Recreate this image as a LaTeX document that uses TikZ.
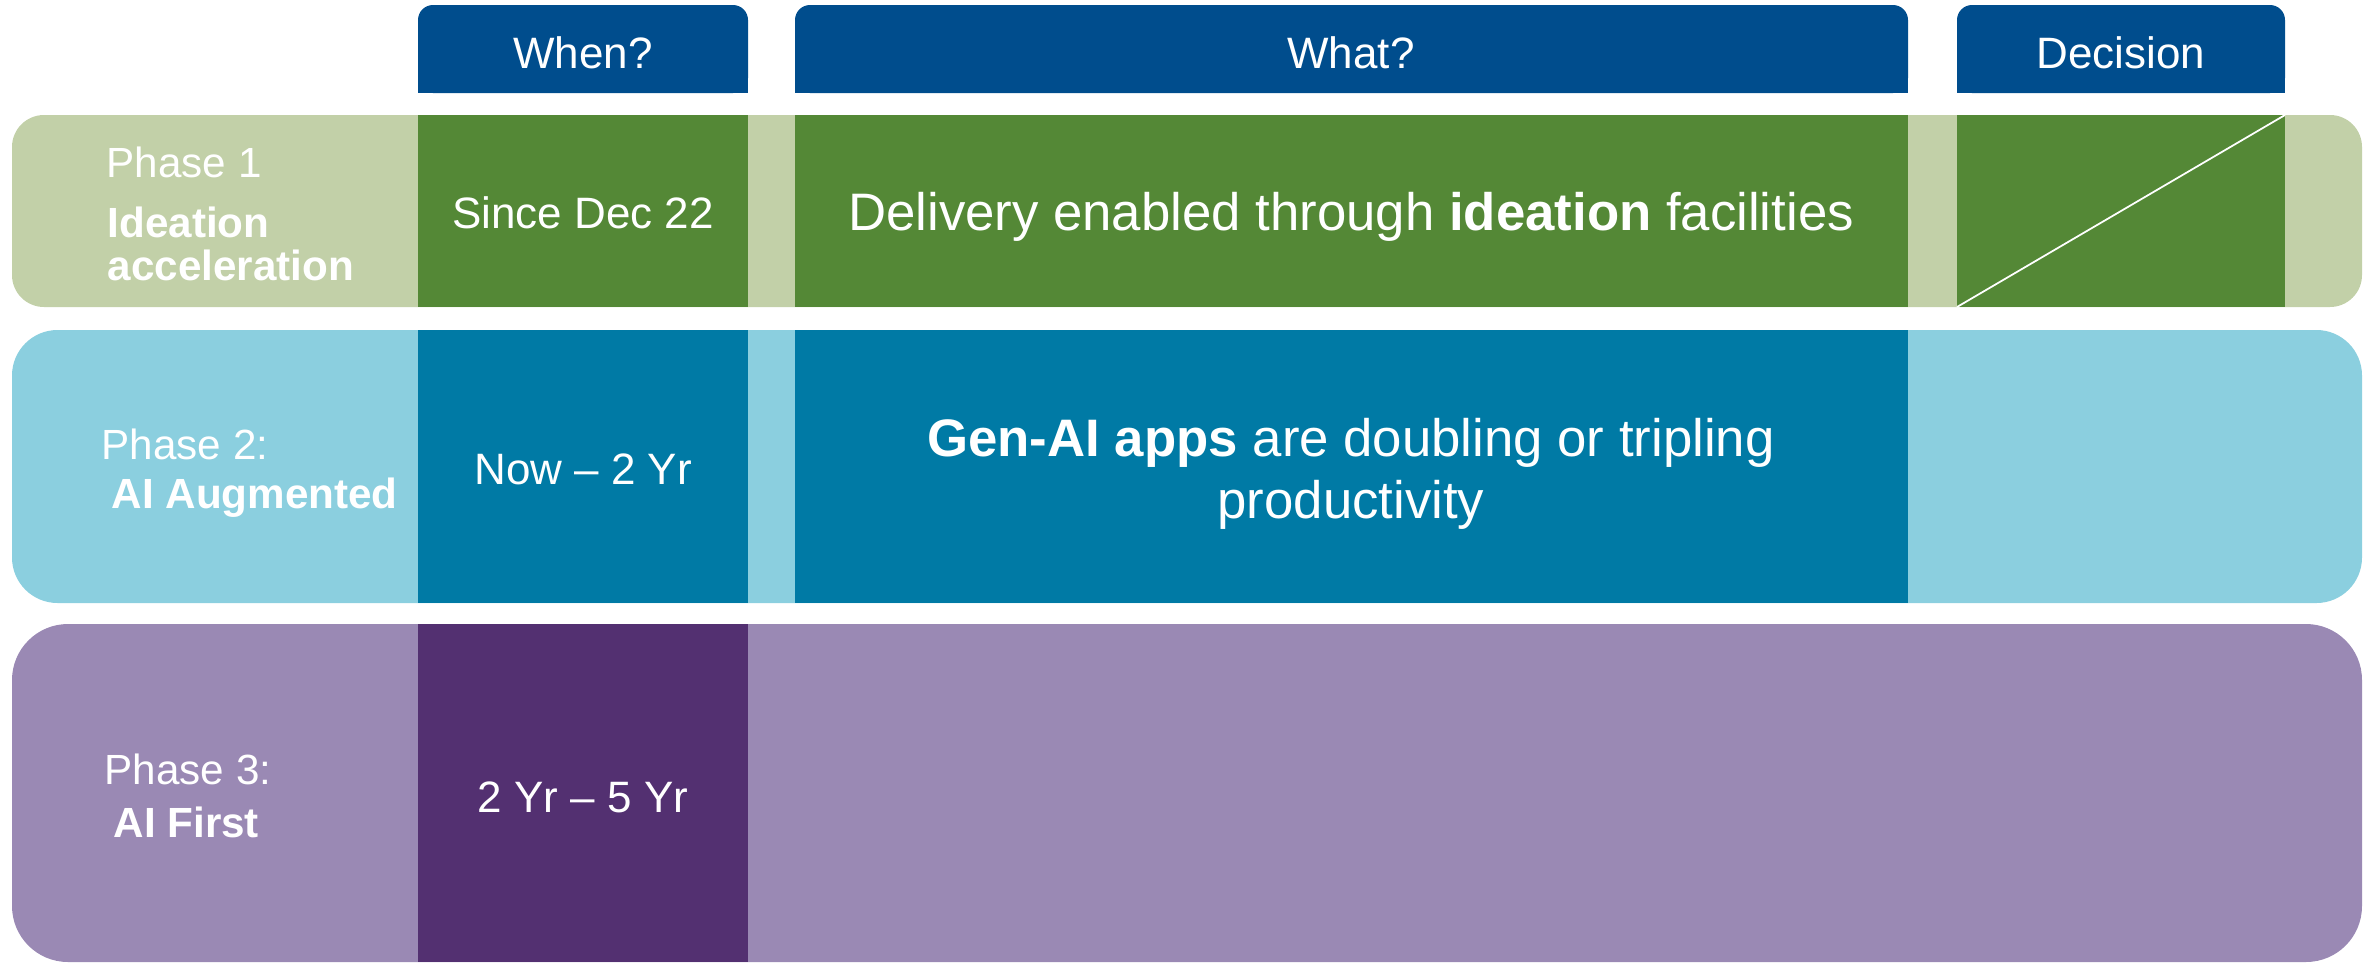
\documentclass[tikz,border=0pt]{standalone}
\usepackage{fontspec}
\setmainfont{Liberation Sans}
\definecolor{hdrblue}{RGB}{0,77,141}
\definecolor{greenlight}{RGB}{194,208,168}
\definecolor{greendark}{RGB}{84,136,54}
\definecolor{bluelight}{RGB}{139,207,223}
\definecolor{bluedark}{RGB}{0,122,165}
\definecolor{purplelight}{RGB}{154,137,180}
\definecolor{purpledark}{RGB}{83,48,113}

\begin{document}
\begin{tikzpicture}[x=0.01cm,y=-0.01cm]
		\tikzstyle{every node}+=[inner sep=0pt, text=white]
		\tikzstyle{hdrtext}=[font=\fontsize{12.5}{15}\selectfont, anchor=base]
		\tikzstyle{celltext}=[font=\fontsize{12.5}{15}\selectfont, anchor=base]
		\tikzstyle{phasetext}=[font=\fontsize{12}{14}\selectfont, anchor=base west]
		\tikzstyle{bigtext}=[font=\fontsize{15}{18}\selectfont, anchor=base]
		\useasboundingbox (0,0) rectangle (2375,963);
		\fill [hdrblue, rounded corners=0.15cm] (418,5) rectangle (748,93);
		\fill [hdrblue] (418,50) rectangle (748,93);
		\draw (583,68) node [hdrtext] (when) {When?};
		\fill [hdrblue, rounded corners=0.15cm] (795,5) rectangle (1908,93);
		\fill [hdrblue] (795,50) rectangle (1908,93);
		\draw (1351,68) node [hdrtext] (what) {What?};
		\fill [hdrblue, rounded corners=0.15cm] (1957,5) rectangle (2285,93);
		\fill [hdrblue] (1957,50) rectangle (2285,93);
		\draw (2121,68) node [hdrtext] (decision) {Decision};
		\fill [greenlight, rounded corners=0.32cm] (12,115) rectangle (2362,307);
		\fill [greendark] (418,115) rectangle (748,307);
		\fill [greendark] (795,115) rectangle (1908,307);
		\fill [greendark] (1957,115) rectangle (2285,307);
		\coordinate (diagA) at (1957,307);
		\coordinate (diagB) at (2285,115);
		\draw [white, line width=0.5pt] (diagA) -- (diagB);
		\draw (106,177) node [phasetext] (phaseone) {Phase 1};
		\draw (107,237) node [phasetext] (ideation) {\bfseries Ideation};
		\draw (107,280) node [phasetext] (acceleration) {\bfseries acceleration};
		\draw (583,228) node [celltext] (since) {Since Dec 22};
		\draw (1351,230) node [bigtext] (delivery) {Delivery enabled through \textbf{ideation} facilities};
		\fill [bluelight, rounded corners=0.455cm] (12,330) rectangle (2362,603);
		\fill [bluedark] (418,330) rectangle (748,603);
		\fill [bluedark] (795,330) rectangle (1908,603);
		\draw (101,459) node [phasetext] (phasetwo) {Phase 2:};
		\draw (111,508) node [phasetext] (augmented) {\bfseries AI Augmented};
		\draw (583,484) node [celltext] (nowtwo) {Now -- 2 Yr};
		\draw (1351,456) node [bigtext] (genai) {\textbf{Gen-AI apps} are doubling or tripling};
		\draw (1351,518) node [bigtext] (productivity) {productivity};
		\fill [purplelight, rounded corners=0.56cm] (12,624) rectangle (2362,962);
		\fill [purpledark] (418,624) rectangle (748,962);
		\draw (104,784) node [phasetext] (phasethree) {Phase 3:};
		\draw (113,837) node [phasetext] (aifirst) {\bfseries AI First};
		\draw (583,812) node [celltext] (twofive) {2 Yr -- 5 Yr};
\end{tikzpicture}
\end{document}
